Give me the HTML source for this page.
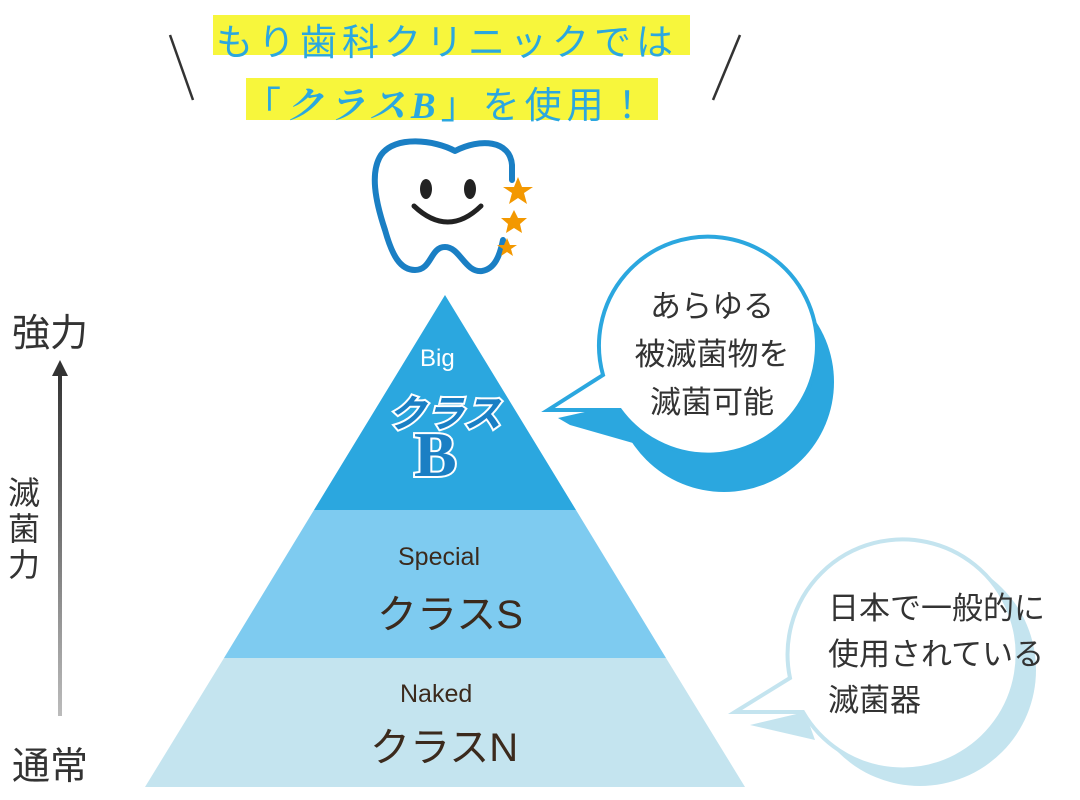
<!DOCTYPE html>
<html><head><meta charset="utf-8"><style>
body{margin:0;width:1080px;height:800px;background:#fff;overflow:hidden;font-family:"Liberation Sans","Noto Sans CJK JP",sans-serif;}
.a{position:absolute;white-space:nowrap;}
</style></head><body>
<svg width="1080" height="800" style="position:absolute;left:0;top:0">
<defs><linearGradient id="g" gradientUnits="userSpaceOnUse" x1="0" y1="370" x2="0" y2="715"><stop offset="0" stop-color="#333"/><stop offset="1" stop-color="#bbb"/></linearGradient></defs>
<rect x="213" y="15" width="477" height="40" fill="#f7f63c"/>
<rect x="246" y="78" width="412" height="42" fill="#f7f63c"/>
<line x1="170" y1="35" x2="193" y2="100" stroke="#333" stroke-width="2.5"/>
<line x1="740" y1="35" x2="713" y2="100" stroke="#333" stroke-width="2.5"/>
<!-- tooth -->
<path d="M512,180 L512,165 C510,140 480,138 455,151 C435,140 395,135 381,155 C370,172 375,200 385,230 C392,255 400,270 415,270 C432,270 430,247 445,247 C460,247 465,273 482,271 C495,269 500,255 503,240" fill="none" stroke="#1a7fc4" stroke-width="6" stroke-linecap="round" stroke-linejoin="round"/>
<ellipse cx="426" cy="189" rx="6" ry="10" fill="#222"/>
<ellipse cx="470" cy="189" rx="6" ry="10" fill="#222"/>
<path d="M414 206 Q448 238 481 206" fill="none" stroke="#222" stroke-width="5" stroke-linecap="round"/>
<g fill="#f39800">
<polygon points="518,177 522,187 533,187 524,193 527,204 518,198 509,204 512,193 503,187 514,187"/>
<polygon points="514,210 518,218 527,218 520,224 522,233 514,228 506,233 508,224 501,218 510,218"/>
<polygon points="507,238 510,245 517,245 511,249 513,256 507,252 501,256 503,249 497,245 504,245"/>
</g>
<!-- pyramid -->
<polygon points="445,295 576,510 314,510" fill="#2ba7df"/>
<polygon points="314,510 576,510 666,658 224,658" fill="#7ecbf0"/>
<polygon points="224,658 666,658 745,787 145,787" fill="#c4e4ef"/>
<!-- arrow -->
<rect x="58" y="372" width="4" height="344" fill="url(#g)"/>
<polygon points="60,360 52,376 68,376" fill="#333"/>
<!-- bubble 1 -->
<circle cx="724" cy="382" r="110" fill="#2ba7df"/>
<polygon points="558,418 625,403 640,445 570,425" fill="#2ba7df"/>
<path d="M548,410 L603,375 A109 109 0 1 1 620,410 Z" fill="#fff" stroke="#2ba7df" stroke-width="4"/>
<!-- bubble 2 -->
<circle cx="920" cy="670" r="116" fill="#c4e4ef"/>
<polygon points="750,725 805,712 815,740" fill="#c4e4ef"/>
<path d="M735,712 L790,678 A115 115 0 1 1 803,712 Z" fill="#fff" stroke="#c4e4ef" stroke-width="4"/>
</svg>
<div class="a" style="left:216px;top:12px;font-size:37px;color:#2ba7df;letter-spacing:5px">もり歯科クリニックでは</div>
<div class="a" style="left:244px;top:75px;font-size:37px;color:#2ba7df;letter-spacing:5px">「<i style="font-weight:bold;font-family:'Liberation Serif','Noto Serif CJK SC',serif">クラスB</i>」を使用！</div>
<div class="a" style="left:12px;top:302px;font-size:38px;color:#333">強力</div>
<div class="a" style="left:8px;top:475px;font-size:32px;color:#333;line-height:36px;width:36px;white-space:normal">滅菌力</div>
<div class="a" style="left:12px;top:735px;font-size:38px;color:#333">通常</div>
<div class="a" style="left:420px;top:345px;font-size:24px;color:#fff">Big</div>
<div class="a" style="left:388px;top:383px;font-size:38px;color:#1a7fc4;font-weight:bold;font-style:italic;-webkit-text-stroke:4px #fff;paint-order:stroke fill">クラス</div>
<div class="a" style="left:414px;top:418px;font-size:64px;color:#1a7fc4;font-weight:bold;font-family:'Liberation Serif',serif;-webkit-text-stroke:4px #fff;paint-order:stroke fill">B</div>
<div class="a" style="left:398px;top:543px;font-size:25px;color:#3b2a1d">Special</div>
<div class="a" style="left:377px;top:582px;font-size:40px;color:#3b2a1d">クラスS</div>
<div class="a" style="left:400px;top:680px;font-size:25px;color:#3b2a1d">Naked</div>
<div class="a" style="left:370px;top:715px;font-size:40px;color:#3b2a1d">クラスN</div>
<div class="a" style="left:622px;top:283px;font-size:31px;color:#333;line-height:48px;text-align:center;width:180px">あらゆる<br>被滅菌物を<br>滅菌可能</div>
<div class="a" style="left:828px;top:586px;font-size:31px;color:#333;line-height:46px">日本で一般的に<br>使用されている<br>滅菌器</div>
</body></html>
